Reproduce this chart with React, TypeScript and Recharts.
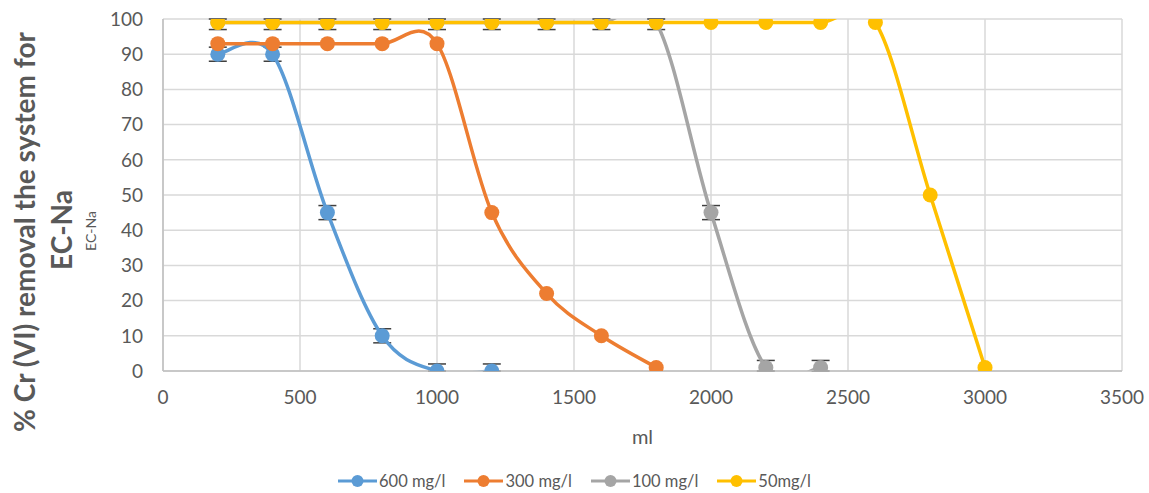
import { Fragment } from 'react';
import { LineChart, Line, XAxis, YAxis, CartesianGrid, ErrorBar } from 'recharts';

// ml values and % removal
const ml600 = [200, 400, 600, 800, 1000, 1200];
const removal600 = [90, 90, 45, 10, 0, 0];
// [below, above] – bars are cut by the 0..100 frame in the original
const err600 = [[2, 2], [2, 2], [2, 2], [2, 2], [0, 2], [0, 2]];

const ml300 = [200, 400, 600, 800, 1000, 1200, 1400, 1600, 1800];
const removal300 = [93, 93, 93, 93, 93, 45, 22, 10, 1];

const ml100 = [200, 400, 600, 800, 1000, 1200, 1400, 1600, 1800, 2000, 2200, 2400];
const removal100 = [99, 99, 99, 99, 99, 99, 99, 99, 99, 45, 1, 1];
const err100 = [[2, 1], [2, 1], [2, 1], [2, 1], [2, 1], [2, 1], [2, 1], [2, 1], [2, 1], [2, 2], [1, 2], [1, 2]];

const ml50 = [200, 400, 600, 800, 1000, 1200, 1400, 1600, 1800, 2000, 2200, 2400, 2600, 2800, 3000];
const removal50 = [99, 99, 99, 99, 99, 99, 99, 99, 99, 99, 99, 99, 99, 50, 1];

const xTicks = [0, 500, 1000, 1500, 2000, 2500, 3000, 3500];
const yTicks = [0, 10, 20, 30, 40, 50, 60, 70, 80, 90, 100];

const toRows = (xs: number[], ys: number[], errs?: number[][]) =>
  xs.map((x, i) => ({ x, y: ys[i], err: errs ? errs[i] : [0, 0] }));

const series = [
  { name: '600 mg/l', color: '#5b9bd5', data: toRows(ml600, removal600, err600), errors: true },
  { name: '300 mg/l', color: '#ed7d31', data: toRows(ml300, removal300), errors: false },
  { name: '100 mg/l', color: '#a5a5a5', data: toRows(ml100, removal100, err100), errors: true },
  { name: '50mg/l', color: '#ffc000', data: toRows(ml50, removal50), errors: false },
];

const FONT = 'Lato, "Open Sans", sans-serif';
const TEXT = '#595959';

// excel style smoothed line (catmull-rom, 1/6 tension)
const excelCurve = (context: any) => {
  let pts: number[][] = [];
  return {
    areaStart() {},
    areaEnd() {},
    lineStart() {
      pts = [];
    },
    point(x: number, y: number) {
      pts.push([+x, +y]);
    },
    lineEnd() {
      const n = pts.length;
      if (!n) return;
      context.moveTo(pts[0][0], pts[0][1]);
      for (let i = 0; i < n - 1; i++) {
        const p0 = pts[Math.max(0, i - 1)];
        const p1 = pts[i];
        const p2 = pts[i + 1];
        const p3 = pts[Math.min(n - 1, i + 2)];
        context.bezierCurveTo(
          p1[0] + (p2[0] - p0[0]) / 6,
          p1[1] + (p2[1] - p0[1]) / 6,
          p2[0] - (p3[0] - p1[0]) / 6,
          p2[1] - (p3[1] - p1[1]) / 6,
          p2[0],
          p2[1]
        );
      }
    },
  };
};

const YTitle = () => (
  <g fill={TEXT} fontFamily={FONT}>
    <text
      transform="translate(24,232) rotate(-90)"
      textAnchor="middle"
      dominantBaseline="central"
      fontSize={28}
      fontWeight={700}
    >
      % Cr (VI) removal the system for
    </text>
    <text
      transform="translate(61,230) rotate(-90)"
      textAnchor="middle"
      dominantBaseline="central"
      fontSize={28}
      fontWeight={700}
    >
      EC-Na
    </text>
    <text
      transform="translate(90,231) rotate(-90)"
      textAnchor="middle"
      dominantBaseline="central"
      fontSize={14}
    >
      EC-Na
    </text>
  </g>
);

const LegendRow = () => (
  <div
    style={{
      position: 'absolute',
      top: 469,
      left: 0,
      width: 1149,
      display: 'flex',
      justifyContent: 'center',
      gap: 19,
      fontFamily: FONT,
      fontSize: 16.5,
      color: TEXT,
    }}
  >
    {series.map((s) => (
      <div key={s.name} style={{ display: 'flex', alignItems: 'center' }}>
        <svg width={39} height={24}>
          <line x1={0} y1={12} x2={39} y2={12} stroke={s.color} strokeWidth={3} />
          <circle cx={19.5} cy={12} r={6} fill={s.color} />
        </svg>
        <span style={{ marginLeft: 2 }}>{s.name}</span>
      </div>
    ))}
  </div>
);

export default function App() {
  return (
    <div style={{ position: 'absolute', left: 0, top: 0, width: 1149, height: 493, background: '#fff' }}>
      <LineChart width={1149} height={493} margin={{ top: 19, right: 27, left: 0, bottom: 82 }}>
        <CartesianGrid stroke="#d9d9d9" strokeWidth={1.5} />
        <XAxis
          type="number"
          dataKey="x"
          domain={[0, 3500]}
          ticks={xTicks}
          tickLine={false}
          tickSize={0}
          tickMargin={20}
          axisLine={{ stroke: '#bfbfbf', strokeWidth: 1.5 }}
          tick={{ fill: TEXT, fontSize: 19, fontFamily: FONT }}
          height={40}
          label={{ value: 'ml', position: 'insideBottom', offset: -33, fill: TEXT, fontSize: 20, fontFamily: FONT }}
        />
        <YAxis
          type="number"
          domain={[0, 100]}
          ticks={yTicks}
          allowDataOverflow
          width={163}
          tickLine={false}
          tickSize={0}
          tickMargin={20}
          axisLine={{ stroke: '#bfbfbf', strokeWidth: 1.5 }}
          tick={{ fill: TEXT, fontSize: 19, fontFamily: FONT }}
          label={{ content: () => <YTitle /> }}
        />
        {series.map((s) => (
          <Fragment key={s.name}>
            <Line
              data={s.data}
              dataKey="y"
              name={s.name}
              type={excelCurve as any}
              stroke={s.color}
              strokeWidth={3.5}
              dot={false}
              activeDot={false}
              isAnimationActive={false}
            >
              {s.errors && (
                <ErrorBar dataKey="err" direction="y" width={9} stroke="#404040" strokeWidth={1.5} />
              )}
            </Line>
            <Line
              data={s.data}
              dataKey="y"
              name={s.name + ' markers'}
              stroke="none"
              legendType="none"
              dot={{ r: 7.5, fill: s.color, stroke: 'none' }}
              activeDot={false}
              isAnimationActive={false}
            />
          </Fragment>
        ))}
      </LineChart>
      <LegendRow />
    </div>
  );
}
